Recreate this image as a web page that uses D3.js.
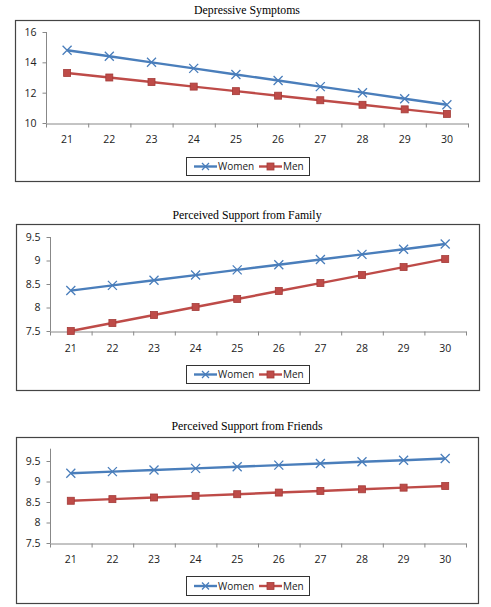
<!DOCTYPE html>
<html><head><meta charset="utf-8">
<script src="https://cdn.jsdelivr.net/npm/d3@7"></script>
<style>body{margin:0;background:#fff}</style>
</head><body>
<script>
const ages = ["21","22","23","24","25","26","27","28","29","30"];
const titles = ["Depressive Symptoms","Perceived Support from Family","Perceived Support from Friends"];
const depWomen = [14.8,14.4,14.0,13.6,13.2,12.8,12.4,12.0,11.6,11.2];
const depMen = [13.3,13.0,12.7,12.4,12.1,11.8,11.5,11.2,10.9,10.6];
const famWomen = [8.36,8.47,8.58,8.69,8.80,8.91,9.02,9.13,9.24,9.35];
const famMen = [7.50,7.67,7.84,8.01,8.18,8.35,8.52,8.69,8.86,9.03];
const friWomen = [9.20,9.24,9.28,9.32,9.36,9.40,9.44,9.48,9.52,9.56];
const friMen = [8.53,8.57,8.61,8.65,8.69,8.73,8.77,8.81,8.85,8.89];
const yTicks1 = [10,12,14,16];
const yTicks2 = [7.5,8,8.5,9,9.5];
const yTicks3 = [7.5,8,8.5,9,9.5];
const seriesNames = ["Women","Men"];
const blue = "#4a7ebb", red = "#be4b48";
const sans = "Open Sans, Liberation Sans, sans-serif";

const svg = d3.select("body").append("svg").attr("width",491).attr("height",607);

const charts = [
  {title:titles[0], women:depWomen, men:depMen, ticks:yTicks1, domain:[10,16],
   titleY:14, frame:[15,20,479,181], axX:46, axR:468, yTop:32, yBot:123, labC:139, leg:[186,157,309,175]},
  {title:titles[1], women:famWomen, men:famMen, ticks:yTicks2, domain:[7.5,9.5],
   titleY:219, frame:[16,224,479,390], axX:50, axR:466, yTop:237, yBot:331, labC:348, leg:[186,365,309,383]},
  {title:titles[2], women:friWomen, men:friMen, ticks:yTicks3, domain:[7.5,9.8],
   titleY:430, frame:[16,437,478,603], axX:50, axR:466, yTop:461, yBot:543, labC:559, leg:[186,576,309,595]}
];
// note: chart 3 yTop refers to the 9.5 tick position

function xMarker(g,x,y,s){
  g.append("path").attr("d",`M${x-s},${y-s}L${x+s},${y+s}M${x-s},${y+s}L${x+s},${y-s}`)
   .attr("stroke",blue).attr("stroke-width",1.3).attr("fill","none");
}
function sqMarker(g,x,y,s){
  g.append("rect").attr("x",x-s).attr("y",y-s).attr("width",2*s).attr("height",2*s)
   .attr("fill",red).attr("stroke","#a33b38").attr("stroke-width",0.8);
}

charts.forEach(c=>{
  const g = svg.append("g");
  const [fx0,fy0,fx1,fy1] = c.frame;
  g.append("rect").attr("x",fx0+0.5).attr("y",fy0+0.5).attr("width",fx1-fx0).attr("height",fy1-fy0)
   .attr("fill","#fff").attr("stroke","#444").attr("stroke-width",1.2);
  g.append("text").attr("x",247).attr("y",c.titleY).attr("text-anchor","middle")
   .attr("font-family","Liberation Serif, Times New Roman, serif").attr("font-size",11.8).attr("fill","#000").text(c.title);

  const x = d3.scaleBand().domain(ages).range([c.axX,c.axR]);
  const yy = d3.scaleLinear().domain([c.ticks[0], c.ticks[c.ticks.length-1]]).range([c.yBot, c.yTop]);
  const yAxisTop = yy(c.domain[1]);

  const ya = g.append("g").attr("transform",`translate(${c.axX+0.5},0)`)
    .call(d3.axisLeft(yy).tickValues(c.ticks).tickFormat(d=>String(d)).tickSize(4).tickPadding(6));
  ya.select(".domain").attr("d",`M-0,${yAxisTop}V${c.yBot}`).attr("stroke","#888");
  ya.selectAll(".tick line").attr("stroke","#888");
  ya.selectAll("text").attr("font-family",sans).attr("font-size",10.5).attr("fill","#222");

  const xa = g.append("g").attr("transform",`translate(0,${c.yBot+0.5})`)
    .call(d3.axisBottom(x).tickSize(0));
  xa.select(".domain").attr("stroke","#888");
  xa.selectAll("text").attr("font-family",sans).attr("font-size",10.5).attr("fill","#222")
    .attr("y", c.labC - c.yBot).attr("dy","0.35em");
  const bounds = ages.map(a=>x(a)).concat([c.axR]);
  xa.selectAll("line.bt").data(bounds).enter().append("line").attr("class","bt")
    .attr("x1",d=>d+0.5).attr("x2",d=>d+0.5).attr("y1",0).attr("y2",4).attr("stroke","#888");

  const cx = a=>x(a)+x.bandwidth()/2;
  const line = d3.line().x((d,i)=>cx(ages[i])).y(d=>yy(d));
  g.append("path").datum(c.women).attr("d",line).attr("fill","none").attr("stroke",blue).attr("stroke-width",2.4);
  g.append("path").datum(c.men).attr("d",line).attr("fill","none").attr("stroke",red).attr("stroke-width",2.4);
  c.women.forEach((v,i)=>xMarker(g,cx(ages[i]),yy(v),4.5));
  c.men.forEach((v,i)=>sqMarker(g,cx(ages[i]),yy(v),3.5));

  const [lx0,ly0,lx1,ly1] = c.leg;
  g.append("rect").attr("x",lx0+0.5).attr("y",ly0+0.5).attr("width",lx1-lx0).attr("height",ly1-ly0)
   .attr("fill","#fff").attr("stroke","#333").attr("stroke-width",1);
  const ly = (ly0+ly1)/2+0.5;
  g.append("line").attr("x1",194).attr("x2",217).attr("y1",ly).attr("y2",ly).attr("stroke",blue).attr("stroke-width",2.4);
  xMarker(g,205.5,ly,3.5);
  g.append("text").attr("x",218).attr("y",ly).attr("dy","0.35em").attr("font-family",sans).attr("font-size",10).attr("fill","#222").text(seriesNames[0]);
  g.append("line").attr("x1",259).attr("x2",282).attr("y1",ly).attr("y2",ly).attr("stroke",red).attr("stroke-width",2.4);
  sqMarker(g,270.5,ly,3.5);
  g.append("text").attr("x",283).attr("y",ly).attr("dy","0.35em").attr("font-family",sans).attr("font-size",10).attr("fill","#222").text(seriesNames[1]);
});
</script>
</body></html>
